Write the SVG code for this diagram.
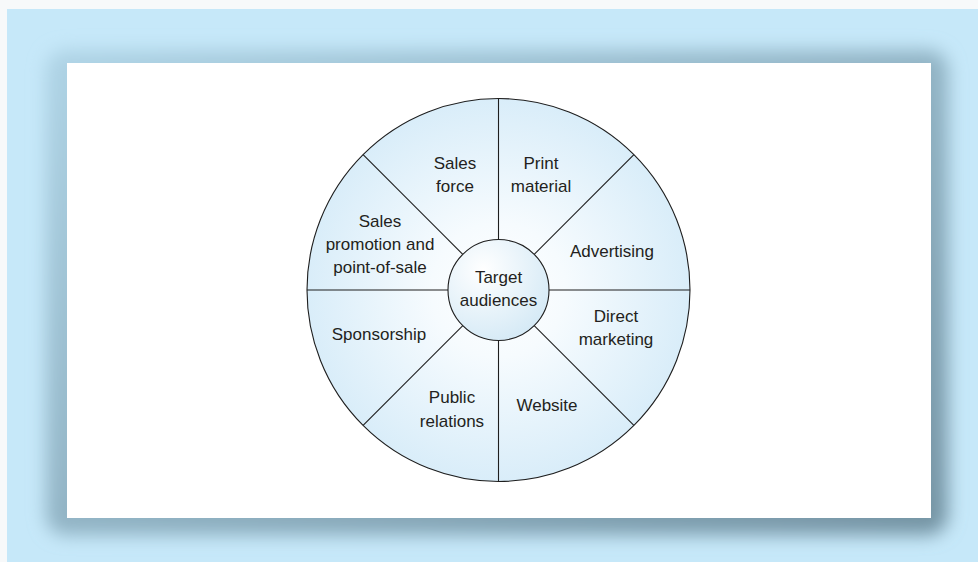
<svg xmlns="http://www.w3.org/2000/svg" width="978" height="562" viewBox="0 0 978 562">
<style>
.seg{fill:url(#wheel);stroke:#1e1e1e;stroke-width:1.1}
.t{font-family:"Liberation Sans",Arial,sans-serif;font-size:17px;fill:#231f20;text-anchor:middle}
.ln{stroke:#1e1e1e;stroke-width:1.1;fill:none}
</style>
<defs>
<linearGradient id="shg" x1="0" y1="0" x2="1" y2="1">
<stop offset="0" stop-color="#afd4e6"/>
<stop offset="1" stop-color="#7493a3"/>
</linearGradient>
<filter id="blur" x="-10%" y="-10%" width="120%" height="120%">
<feGaussianBlur stdDeviation="9"/>
</filter>
<radialGradient id="wheel" gradientUnits="userSpaceOnUse" cx="498.5" cy="290" r="191.5">
<stop offset="0" stop-color="#ffffff"/>
<stop offset="0.35" stop-color="#f6fbfe"/>
<stop offset="1" stop-color="#d9edf9"/>
</radialGradient>
<radialGradient id="hub" cx="0.35" cy="0.3" r="0.8">
<stop offset="0" stop-color="#ffffff"/>
<stop offset="1" stop-color="#d2e8f5"/>
</radialGradient>
</defs>
<rect x="0" y="0" width="978" height="562" fill="#f7f9fa"/>
<rect x="7" y="9" width="971" height="553" fill="#c6e8f9"/>
<rect x="46" y="50" width="902" height="485" rx="20" fill="url(#shg)" filter="url(#blur)"/>
<rect x="67" y="63" width="864" height="455" fill="#ffffff"/>

<g id="wheel-base">
<circle cx="498.5" cy="290" r="191.5" class="seg"/>
</g>

<g id="connectors">
<line class="ln" x1="498.5" y1="239.5" x2="498.5" y2="98.5"/>
<line class="ln" x1="498.5" y1="340.5" x2="498.5" y2="481.5"/>
<line class="ln" x1="448" y1="290" x2="307" y2="290"/>
<line class="ln" x1="549" y1="290" x2="690" y2="290"/>
<line class="ln" x1="534.2" y1="254.3" x2="633.9" y2="154.6"/>
<line class="ln" x1="462.8" y1="254.3" x2="363.1" y2="154.6"/>
<line class="ln" x1="534.2" y1="325.7" x2="633.9" y2="425.4"/>
<line class="ln" x1="462.8" y1="325.7" x2="363.1" y2="425.4"/>
</g>

<g id="sales-force">
<text class="t" x="455" y="169">Sales</text>
<text class="t" x="455" y="192">force</text>
</g>
<g id="print-material">
<text class="t" x="541" y="169">Print</text>
<text class="t" x="541" y="192">material</text>
</g>
<g id="sales-promotion">
<text class="t" x="380" y="227">Sales</text>
<text class="t" x="380" y="250">promotion and</text>
<text class="t" x="380" y="273">point-of-sale</text>
</g>
<g id="advertising">
<text class="t" x="612" y="257">Advertising</text>
</g>
<g id="direct-marketing">
<text class="t" x="616" y="322">Direct</text>
<text class="t" x="616" y="345">marketing</text>
</g>
<g id="sponsorship">
<text class="t" x="379" y="340">Sponsorship</text>
</g>
<g id="public-relations">
<text class="t" x="452" y="403">Public</text>
<text class="t" x="452" y="427">relations</text>
</g>
<g id="website">
<text class="t" x="547" y="411">Website</text>
</g>
<g id="target-audiences">
<circle cx="498.5" cy="290" r="50.5" fill="url(#hub)" stroke="#1e1e1e" stroke-width="1.1"/>
<text class="t" x="498.5" y="283">Target</text>
<text class="t" x="498.5" y="306">audiences</text>
</g>
</svg>
